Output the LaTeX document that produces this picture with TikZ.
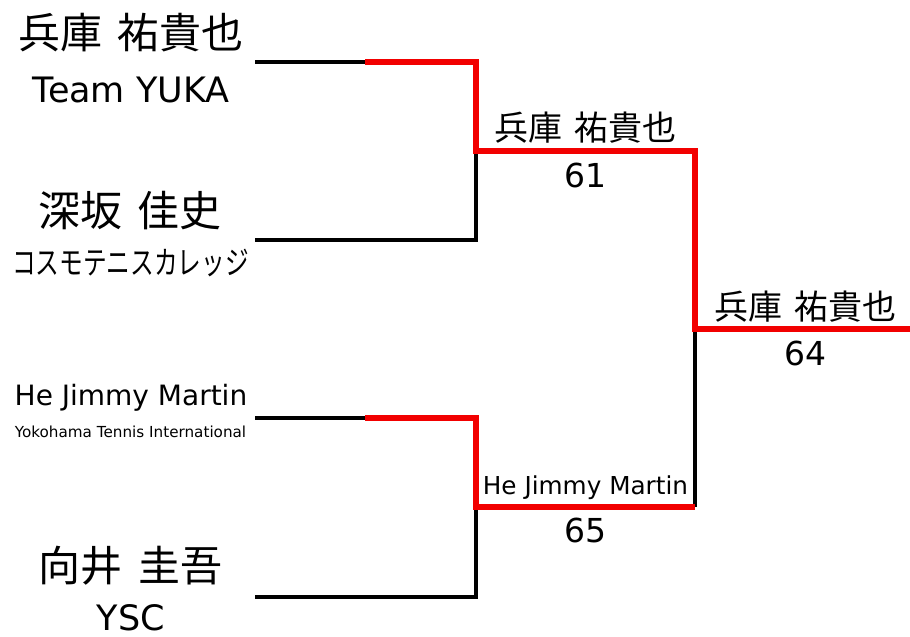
\documentclass[tikz,border=0pt]{standalone}
\usepackage{fontspec}
\setmainfont{Noto Sans CJK JP}[WordSpace=1.6]
\newfontfamily\latin{DejaVu Sans}
\tikzset{
  lose/.style={line width=3.5pt, black},
  win/.style={line width=5.5pt, red!95!black, line join=miter},
  txt/.style={inner sep=0pt, anchor=center},
  ltxt/.style={inner sep=0pt, anchor=base},
}
\newcommand{\fs}[1]{\fontsize{#1}{#1}\selectfont}
\begin{document}
\begin{tikzpicture}[x=1pt, y=-1pt]
    \useasboundingbox (0,0) rectangle (910,637);

    % players
    \node[txt, font=\fs{42}] (n1) at (131,33) {兵庫 祐貴也};
    \node[ltxt, font=\latin\fs{35}] (c1) at (131,102) {Team YUKA};

    \node[txt, font=\fs{42}] (n2) at (130,211) {深坂 佳史};
    \node[txt, font=\fs{32}, xscale=0.74] (c2) at (130.5,263) {コスモテニスカレッジ};

    \node[ltxt, font=\latin\fs{28}] (n3) at (131,405) {He Jimmy Martin};
    \node[ltxt, font=\latin\fs{15.2}] (c3) at (130.5,437) {Yokohama Tennis International};

    \node[txt, font=\fs{42}] (n4) at (130.5,566) {向井 圭吾};
    \node[ltxt, font=\latin\fs{35}] (c4) at (131,630) {YSC};

    % rounds
    \node[txt, font=\fs{34}] (w1) at (585.5,128) {兵庫 祐貴也};
    \node[ltxt, font=\latin\fs{33}] (s1) at (585,187) {61};

    \node[ltxt, font=\latin\fs{24.7}] (w2) at (585.5,494) {He Jimmy Martin};
    \node[ltxt, font=\latin\fs{33}] (s2) at (585,542) {65};

    \node[txt, font=\fs{34}] (w3) at (805.5,307) {兵庫 祐貴也};
    \node[ltxt, font=\latin\fs{33}] (s3) at (805,365) {64};

    % bracket corners
    \coordinate (a1) at (255,62);
    \coordinate (m1) at (365,62);
    \coordinate (k1) at (476,62);
    \coordinate (a2) at (255,240);
    \coordinate (k2) at (476,240);
    \coordinate (a3) at (255,418);
    \coordinate (m3) at (365,418);
    \coordinate (k3) at (476,418);
    \coordinate (a4) at (255,597);
    \coordinate (k4) at (476,597);
    \coordinate (j1) at (476,151);
    \coordinate (j2) at (476,507);
    \coordinate (r1) at (695,151);
    \coordinate (r2) at (695,507);
    \coordinate (f) at (695,329);
    \coordinate (e) at (910,329);

    \draw[lose] (a1) to (m1);
    \draw[lose] (a2) -- (k2) -- (j1);
    \draw[lose] (a3) to (m3);
    \draw[lose] (a4) -- (k4) -- (j2);
    \draw[lose] (r2) to (f);

    \draw[win] (m1) -- (k1) -- (j1) -- (r1) -- (f) -- (e);
    \draw[win] (m3) -- (k3) -- (j2) -- (r2);

\end{tikzpicture}
\end{document}
